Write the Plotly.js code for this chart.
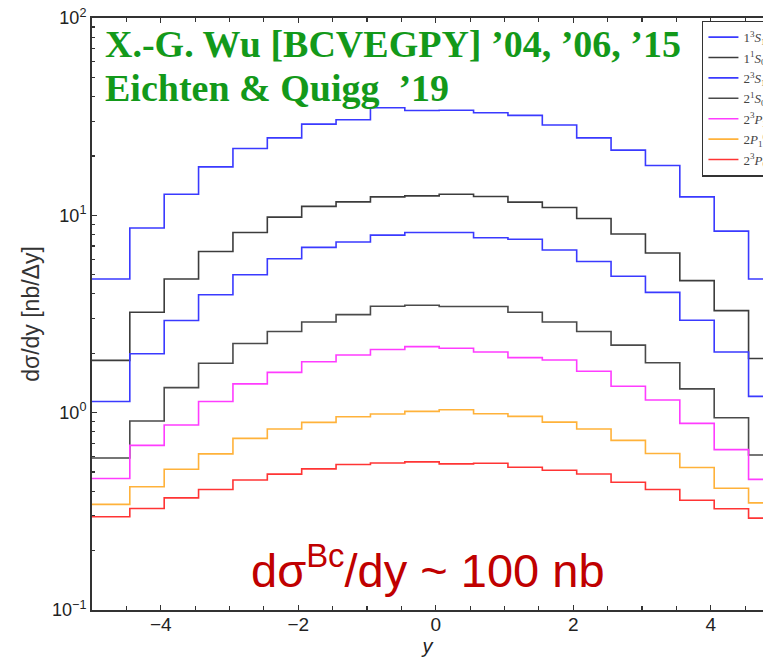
<!DOCTYPE html>
<html>
<head>
<meta charset="utf-8">
<script src="https://cdn.plot.ly/plotly-3.0.1.min.js"></script>
<style>html,body{margin:0;padding:0;background:#fff;}#chart{width:763px;height:657px;}</style>
</head>
<body>
<div id="chart"></div>
<script>
// Rapidity bin edges (y)
const binEdges = [-5.0,-4.45,-3.95,-3.45,-2.95,-2.45,-1.95,-1.45,-0.95,-0.45,0.05,0.55,1.05,1.55,2.05,2.55,3.05,3.55,4.05,4.55,5.05];

// dσ/dy [nb/Δy] per bin
const s_1_3S1 = [4.76,8.62,12.8,17.6,21.8,24.7,29.0,30.5,35.1,34.0,34.1,33.1,32.1,28.7,24.7,21.4,17.9,12.4,8.32,4.76];
const s_1_1S0 = [1.84,3.23,4.76,6.56,8.19,9.79,11.1,11.7,12.4,12.55,12.8,12.45,11.66,10.95,9.63,8.04,6.44,4.67,3.29,1.88];
const s_2_3S1 = [1.14,1.99,2.93,3.96,5.0,6.03,6.88,7.32,7.94,8.19,8.19,7.70,7.56,6.67,5.84,4.91,4.07,2.94,2.03,1.21];
const s_2_1S0 = [0.589,0.907,1.34,1.78,2.24,2.58,2.88,3.14,3.46,3.50,3.45,3.45,3.23,2.88,2.58,2.20,1.79,1.32,0.943,0.61];
const s_2_3P2 = [0.464,0.683,0.866,1.14,1.40,1.60,1.81,1.96,2.09,2.16,2.12,2.03,1.90,1.85,1.62,1.36,1.16,0.883,0.65,0.459];
const s_2P1p  = [0.343,0.421,0.517,0.618,0.741,0.826,0.893,0.954,0.984,1.015,1.035,0.988,0.958,0.896,0.826,0.724,0.621,0.527,0.414,0.349];
const s_2_3P0 = [0.297,0.327,0.370,0.408,0.456,0.488,0.519,0.546,0.556,0.563,0.550,0.554,0.529,0.511,0.489,0.444,0.408,0.360,0.326,0.292];

const seriesNames = [
  "1<sup>3</sup><i>S</i><sub>1</sub>",
  "1<sup>1</sup><i>S</i><sub>0</sub>",
  "2<sup>3</sup><i>S</i><sub>1</sub>",
  "2<sup>1</sup><i>S</i><sub>0</sub>",
  "2<sup>3</sup><i>P</i><sub>2</sub>",
  "2<i>P</i><sub>1</sub><sup>(′)</sup>",
  "2<sup>3</sup><i>P</i><sub>0</sub>"
];
const seriesValues = [s_1_3S1, s_1_1S0, s_2_3S1, s_2_1S0, s_2_3P2, s_2P1p, s_2_3P0];
const seriesColors = ["#3a3aff","#3c3c3c","#3a3aff","#4a4a4a","#ff3cff","#ffb23a","#ff3434"];

// y-axis decade ticks
const yTickVals = [0.1, 1, 10, 100];
const yTickText = ["10<sup>−1</sup>", "10<sup>0</sup>", "10<sup>1</sup>", "10<sup>2</sup>"];
const yMinorVals = [0.2,0.3,0.4,0.5,0.6,0.7,0.8,0.9,2,3,4,5,6,7,8,9,20,30,40,50,60,70,80,90];

const traces = seriesValues.map((vals, i) => ({
  x: binEdges,
  y: vals.concat([vals[vals.length - 1]]),
  type: "scatter",
  mode: "lines",
  line: {shape: "hv", color: seriesColors[i], width: 1.6},
  name: seriesNames[i],
  legendgroup: "g" + i,
  showlegend: true
}));

const layout = {
  width: 763,
  height: 657,
  margin: {l: 92, r: 0, t: 18, b: 47, autoexpand: false},
  paper_bgcolor: "#fff",
  plot_bgcolor: "#fff",
  font: {family: "Liberation Sans, Arial, sans-serif", color: "#222"},
  showlegend: true,
  legend: {
    x: 0.909, y: 0.9955, xanchor: "left", yanchor: "top",
    bgcolor: "#fff", bordercolor: "#333", borderwidth: 1.5,
    font: {family: "Liberation Serif, serif", size: 13, color: "#444"},
    tracegroupgap: 0.5,
    itemwidth: 30
  },
  xaxis: {
    range: [-5, 4.76],
    tick0: 0, dtick: 2,
    ticks: "inside", ticklen: 5, tickwidth: 1.3, tickcolor: "#333",
    minor: {dtick: 0.5, ticks: "inside", ticklen: 4, tickwidth: 1.2, tickcolor: "#333"},
    showline: true, linecolor: "#333", linewidth: 2, mirror: "ticks",
    showgrid: false, zeroline: false,
    tickfont: {size: 19, color: "#222"},
    ticklabelstandoff: -4,
    title: {text: "<i>y</i>", font: {size: 20, color: "#222"}, standoff: 0}
  },
  yaxis: {
    type: "log",
    range: [-1, 2],
    tickmode: "array",
    tickvals: yTickVals,
    ticktext: yTickText,
    ticks: "inside", ticklen: 5, tickwidth: 1.3, tickcolor: "#333",
    minor: {tickmode: "array", tickvals: yMinorVals, ticks: "inside", ticklen: 3, tickwidth: 1.2, tickcolor: "#333"},
    showline: true, linecolor: "#333", linewidth: 2, mirror: false,
    showgrid: false, zeroline: false,
    tickfont: {size: 18, color: "#222"},
    title: {text: "dσ/dy [nb/Δy]", font: {size: 23, color: "#333"}, standoff: 6}
  },
  annotations: [
    {xref: "paper", yref: "paper", x: 0.016, y: 0.956, xanchor: "left", yanchor: "middle",
     text: "<b>X.-G. Wu [BCVEGPY] ’04, ’06, ’15</b>", showarrow: false,
     font: {family: "Liberation Serif, Times New Roman, serif", size: 38, color: "#13991a"}},
    {xref: "paper", yref: "paper", x: 0.016, y: 0.882, xanchor: "left", yanchor: "middle",
     text: "<b>Eichten &amp; Quigg  ’19</b>", showarrow: false,
     font: {family: "Liberation Serif, Times New Roman, serif", size: 38, color: "#13991a"}},
    {xref: "paper", yref: "paper", x: 0.5, y: 0.073, xanchor: "center", yanchor: "middle",
     text: "dσ<sup>Bc</sup>/dy ~ 100 nb", showarrow: false,
     font: {family: "Liberation Sans, Arial, sans-serif", size: 47, color: "#c00000"}}
  ]
};

Plotly.newPlot("chart", traces, layout, {displayModeBar: false, staticPlot: true});
</script>
</body>
</html>
